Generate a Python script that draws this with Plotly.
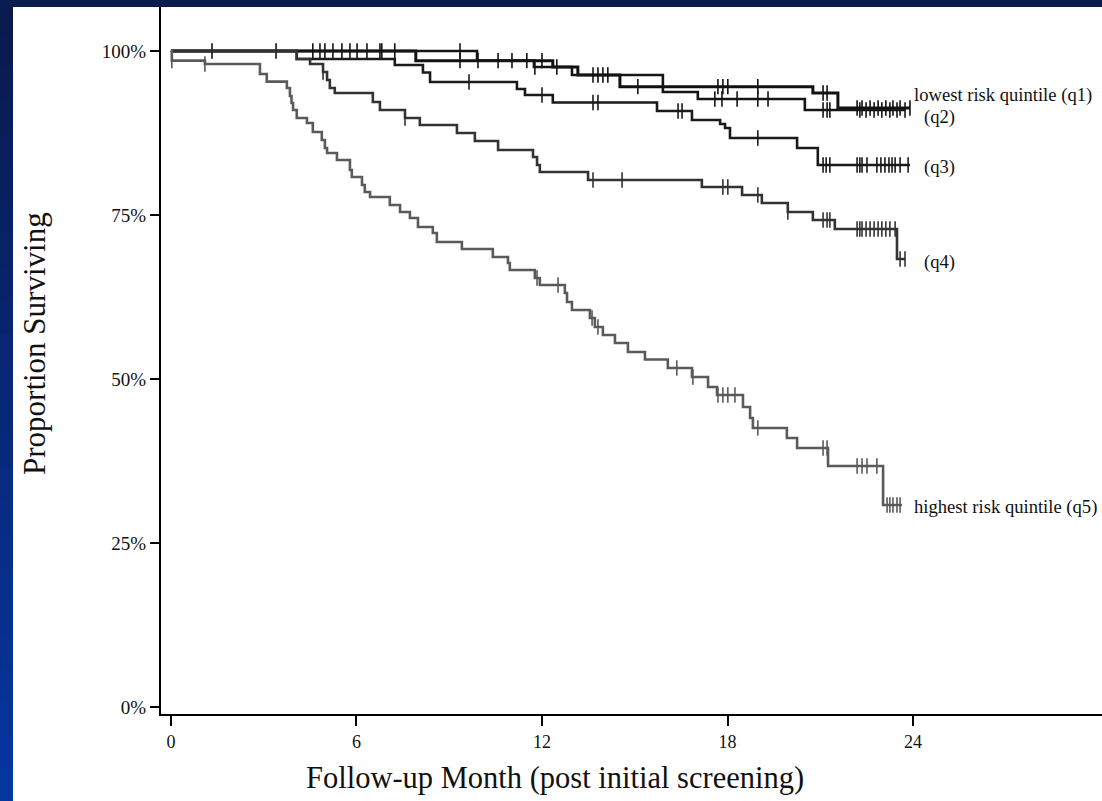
import numpy as np
import plotly.graph_objects as go

# ---------------- data (months, % surviving) ----------------
q1_t = [0, 7.92, 12.35, 13.16, 14.52, 20.76, 21.57]
q1_s = [100, 98.52, 97.56, 96.34, 94.56, 93.60, 91.31]
q1_end = 23.90
q1_cens = [1.33, 4.59, 4.98, 5.53, 6.02, 6.76, 7.24, 9.35, 10.58, 11.03, 11.51, 12.00,
           12.48, 13.81, 13.97, 14.13, 15.10, 17.69, 17.85, 18.01, 18.98, 21.09, 21.22,
           22.19, 22.35, 22.61, 22.87, 23.12, 23.35, 23.58, 23.90]

q2_t = [0, 9.90, 11.74, 12.97, 15.91, 17.04, 20.50]
q2_s = [100, 98.52, 97.56, 96.34, 93.75, 92.68, 91.01]
q2_end = 23.74
q2_cens = [3.40, 4.82, 5.24, 5.79, 6.34, 6.82, 9.35, 9.93, 11.77, 13.65, 17.59, 17.82,
           18.31, 18.98, 19.31, 21.09, 21.22, 21.31, 22.28, 22.48, 22.74, 22.99, 23.25,
           23.48, 23.74]

q3_t = [0, 4.07, 7.24, 8.15, 8.38, 11.19, 11.45, 12.35, 15.72, 16.85, 17.76, 17.92,
        18.08, 20.25, 20.92]
q3_s = [100, 98.78, 97.87, 96.72, 95.27, 94.21, 93.29, 92.15, 90.85, 89.48, 88.87,
        88.26, 86.74, 85.21, 82.62]
q3_end = 23.90
q3_cens = [9.64, 12.00, 13.65, 13.81, 16.40, 16.53, 18.98, 21.09, 21.19, 21.31, 22.19,
           22.28, 22.35, 22.51, 22.83, 22.96, 23.09, 23.22, 23.32, 23.42, 23.58, 23.84]

q4_t = [0, 4.07, 4.50, 4.92, 5.05, 5.14, 5.30, 6.53, 6.76, 7.57, 8.05, 9.25, 9.83,
        10.58, 11.71, 11.84, 11.93, 13.49, 17.17, 18.47, 19.11, 19.95, 20.76, 21.47, 23.48]
q4_s = [100, 98.78, 98.02, 96.80, 95.58, 94.36, 93.60, 92.23, 91.01, 89.79, 88.72,
        87.50, 86.28, 84.91, 83.84, 82.62, 81.55, 80.34, 79.27, 78.05, 76.83, 75.46,
        74.24, 72.87, 68.29]
q4_end = 23.74
q4_cens = [4.92, 7.57, 13.65, 14.59, 17.85, 18.01, 18.98, 19.95, 21.09, 21.22, 21.31,
           22.19, 22.28, 22.35, 22.48, 22.61, 22.74, 22.87, 22.99, 23.12, 23.25, 23.42,
           23.58, 23.74]

q5_t = [0, 0.03, 1.10, 2.88, 3.10, 3.75, 3.85, 3.90, 3.95, 4.07, 4.40, 4.59, 4.88,
        4.98, 5.05, 5.37, 5.79, 5.85, 6.18, 6.27, 6.44, 7.08, 7.41, 7.73, 7.99, 8.47,
        8.60, 9.41, 10.41, 10.90, 10.96, 11.77, 11.93, 12.74, 12.81, 12.97, 13.55,
        13.71, 13.97, 14.36, 14.78, 15.33, 16.07, 16.85, 17.37, 17.66, 18.50, 18.73,
        18.82, 19.92, 20.25, 21.25, 23.03]
q5_s = [100, 98.52, 98.02, 96.49, 95.32, 94.36, 93.14, 92.07, 91.01, 89.79, 89.02,
        87.65, 86.43, 85.21, 84.45, 83.38, 81.86, 80.79, 79.57, 78.51, 77.74, 76.52,
        75.46, 74.54, 73.17, 72.26, 70.88, 69.82, 68.60, 67.68, 66.62, 65.40, 64.33,
        63.11, 61.74, 60.52, 59.30, 57.93, 56.71, 55.49, 54.12, 52.97, 51.68, 50.30,
        48.78, 47.56, 45.73, 44.05, 42.53, 41.01, 39.48, 36.74, 30.79]
q5_end = 23.64
q5_cens = [0.03, 1.10, 11.84, 12.52, 13.62, 13.81, 16.36, 16.88, 17.69, 17.85, 18.01,
           18.24, 18.98, 21.09, 21.22, 22.19, 22.35, 22.51, 22.83, 23.16, 23.25, 23.35,
           23.48, 23.58]

x_ticks = [0, 6, 12, 18, 24]
y_ticks = [0, 25, 50, 75, 100]
y_ticktext = ["0%", "25%", "50%", "75%", "100%"]

labels = [
    ("lowest risk quintile (q1)", 23.95, 93.3),
    ("(q2)", 24.3, 89.9),
    ("(q3)", 24.3, 82.3),
    ("(q4)", 24.3, 67.8),
    ("highest risk quintile (q5)", 23.95, 30.5),
]

# ---------------- styling ----------------
SERIF = "Liberation Serif, Times New Roman, serif"
curves = [
    (q1_t, q1_s, q1_end, q1_cens, "#111111", 3.0),
    (q2_t, q2_s, q2_end, q2_cens, "#151515", 2.6),
    (q3_t, q3_s, q3_end, q3_cens, "#1a1a1a", 2.6),
    (q4_t, q4_s, q4_end, q4_cens, "#333333", 2.6),
    (q5_t, q5_s, q5_end, q5_cens, "#5a5a5a", 2.6),
]

fig = go.Figure()
for t, s, end, cens, col, w in curves:
    xs = list(t) + [end]
    ys = list(s) + [s[-1]]
    fig.add_trace(go.Scatter(x=xs, y=ys, mode="lines", line=dict(color=col, width=w, shape="hv"),
                             hoverinfo="skip", showlegend=False))
    ta = np.array(t)
    sa = np.array(s)
    idx = np.searchsorted(ta, np.array(cens), side="right") - 1
    cy = sa[idx]
    fig.add_trace(go.Scatter(x=cens, y=cy, mode="markers",
                             marker=dict(symbol="line-ns", size=11,
                                         line=dict(color=col, width=1.6)),
                             hoverinfo="skip", showlegend=False))

for txt, x, y in labels:
    fig.add_annotation(x=x, y=y, xref="x", yref="y", text=txt, showarrow=False,
                       xanchor="left", yanchor="middle",
                       font=dict(family=SERIF, size=18.6, color="#111111"))

W, H = 1102, 801
L, R, T, B = 161, 0, 7, 87
pw, ph = W - L - R, H - T - B

def px(xp):
    return (xp - L) / pw

def py(yp):
    return (H - B - yp) / ph

# blue frame (gradient approximated by bands)
shapes = []
top_c = np.array([10, 26, 78])
bot_c = np.array([6, 54, 160])
n = 24
for i in range(n):
    f = i / (n - 1)
    c = (top_c * (1 - f) + bot_c * f).astype(int)
    y0 = i * H / n
    y1 = (i + 1) * H / n + 1
    shapes.append(dict(type="rect", xref="paper", yref="paper", x0=px(0), x1=px(13),
                       y0=py(y1), y1=py(y0), fillcolor=f"rgb({c[0]},{c[1]},{c[2]})",
                       line=dict(width=0), layer="below"))
shapes.append(dict(type="rect", xref="paper", yref="paper", x0=px(0), x1=px(W),
                   y0=py(7), y1=py(0), fillcolor="rgb(10,28,80)", line=dict(width=0),
                   layer="below"))

fig.update_layout(
    width=W, height=H,
    margin=dict(l=L, r=R, t=T, b=B, pad=0),
    paper_bgcolor="white", plot_bgcolor="white",
    shapes=shapes,
    showlegend=False,
    xaxis=dict(range=[-0.32, 30.11], tickvals=x_ticks, ticktext=[str(v) for v in x_ticks],
               showgrid=False, zeroline=False, showline=True, linecolor="black", linewidth=2,
               ticks="outside", ticklen=10, tickwidth=1.5, tickcolor="black",
               tickfont=dict(family=SERIF, size=18, color="#111111")),
    yaxis=dict(range=[-1.07, 106.7], tickvals=y_ticks, ticktext=y_ticktext,
               showgrid=False, zeroline=False, showline=True, linecolor="black", linewidth=2,
               ticks="outside", ticklen=9, tickwidth=1.5, tickcolor="black",
               tickfont=dict(family=SERIF, size=19, color="#111111")),
)

fig.add_annotation(x=px(555), y=py(778), xref="paper", yref="paper",
                   text="Follow-up Month (post initial screening)", showarrow=False,
                   xanchor="center", yanchor="middle",
                   font=dict(family=SERIF, size=30.5, color="#111111"))
fig.add_annotation(x=px(34), y=py(344), xref="paper", yref="paper",
                   text="Proportion Surviving", showarrow=False, textangle=-90,
                   xanchor="center", yanchor="middle",
                   font=dict(family=SERIF, size=31, color="#111111"))

fig.write_html("out.html", config={"displayModeBar": False},
               post_script="document.body.style.margin='0';document.body.style.overflow='hidden';")
